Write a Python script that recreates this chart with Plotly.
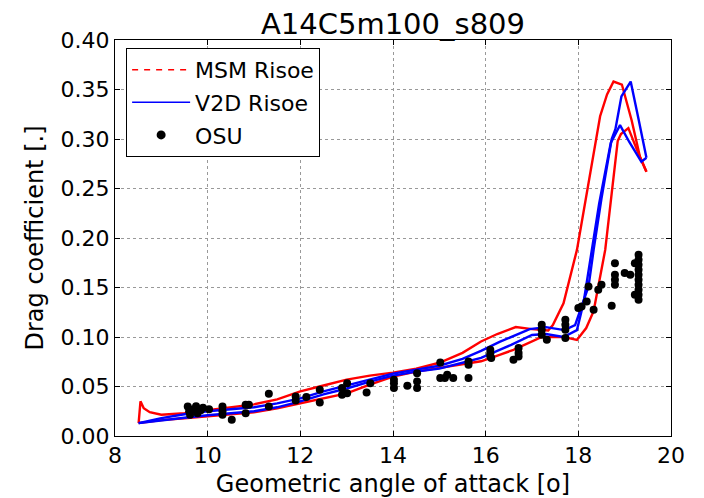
import plotly.graph_objects as go

# MSM Risoe (red) - two hysteresis branches
msm_a_x = [8.51, 8.55, 8.62, 8.75, 9.0, 9.5, 10.0, 10.5, 11.0, 11.5, 12.0, 12.5, 13.0, 13.5, 14.0, 14.5,
           15.0, 15.5, 15.9, 16.25, 16.65, 17.0, 17.35, 17.45, 17.68, 17.97, 18.25, 18.47, 18.62, 18.76,
           18.94, 19.15, 19.33, 19.47]
msm_a_y = [0.013, 0.035, 0.028, 0.024, 0.0215, 0.023, 0.026, 0.029, 0.032, 0.037, 0.045, 0.051, 0.057, 0.061,
           0.064, 0.068, 0.074, 0.084, 0.0955, 0.103, 0.110, 0.108, 0.1066, 0.112, 0.134, 0.188, 0.262, 0.323,
           0.345, 0.358, 0.355, 0.319, 0.282, 0.267]
msm_b_x = [8.51, 9.0, 9.5, 10.0, 10.5, 11.0, 11.5, 12.0, 12.5, 13.0, 13.5, 14.0, 14.5, 15.0, 15.5, 15.9,
           16.3, 16.6, 17.2, 17.7, 17.97, 18.17, 18.33, 18.58, 18.72, 18.85, 18.92, 19.08, 19.3, 19.47]
msm_b_y = [0.013, 0.016, 0.018, 0.020, 0.022, 0.024, 0.028, 0.033, 0.038, 0.043, 0.052, 0.060, 0.065, 0.069,
           0.073, 0.0755, 0.082, 0.087, 0.0999, 0.0999, 0.097, 0.109, 0.126, 0.188, 0.245, 0.298, 0.305,
           0.311, 0.285, 0.267]

# V2D Risoe (blue) - two hysteresis branches
v2d_a_x = [8.51, 9.0, 9.5, 10.0, 10.5, 11.0, 11.5, 12.0, 12.5, 13.0, 13.5, 14.0, 14.5, 15.0, 15.5, 15.9,
           16.3, 16.95, 17.3, 17.7, 17.93, 18.04, 18.22, 18.33, 18.5, 18.72, 18.8, 18.93, 19.13, 19.3, 19.47]
v2d_a_y = [0.013, 0.018, 0.022, 0.025, 0.027, 0.029, 0.033, 0.038, 0.045, 0.051, 0.057, 0.063, 0.067, 0.071,
           0.078, 0.086, 0.095, 0.108, 0.110, 0.107, 0.112, 0.127, 0.151, 0.188, 0.24, 0.300, 0.310, 0.343,
           0.358, 0.32, 0.281]
v2d_b_x = [8.51, 9.0, 9.5, 10.0, 10.5, 11.0, 11.5, 12.0, 12.5, 13.0, 13.5, 14.0, 14.5, 15.0, 15.5, 15.9,
           16.3, 16.55, 17.0, 17.3, 17.68, 17.97, 18.11, 18.27, 18.45, 18.7, 18.9, 19.1, 19.36, 19.47]
v2d_b_y = [0.013, 0.016, 0.0185, 0.021, 0.023, 0.025, 0.029, 0.035, 0.042, 0.048, 0.055, 0.061, 0.065, 0.068,
           0.074, 0.079, 0.087, 0.092, 0.102, 0.103, 0.100, 0.107, 0.134, 0.18, 0.235, 0.296, 0.314, 0.297,
           0.277, 0.281]

# OSU measurements
osu_x = [9.57, 9.6, 9.62, 9.65, 9.7, 9.75, 9.78, 9.85, 9.9, 10.03, 10.32, 10.32, 10.32, 10.52, 10.82, 10.82,
         10.89, 11.32, 11.32, 11.9, 11.9, 12.13, 12.42, 12.42, 12.9, 12.9, 13.01, 13.01, 13.43, 13.51,
         14.02, 14.02, 14.02, 14.31, 14.52, 14.52, 14.52, 15.02, 15.02, 15.12, 15.17, 15.3, 15.63, 15.63,
         15.63, 16.1, 16.1, 16.1, 16.12, 16.6, 16.71, 16.71, 16.71, 17.21, 17.21, 17.21, 17.32, 17.72,
         17.72, 17.72, 17.72, 18.0, 18.07, 18.18, 18.22, 18.33, 18.43, 18.5, 18.72, 18.79, 18.79, 18.79,
         18.79, 19.0, 19.12, 19.22, 19.3, 19.3, 19.3, 19.3, 19.3, 19.3, 19.3, 19.3, 19.3, 19.3, 19.22]
osu_y = [0.0298, 0.025, 0.0214, 0.0265, 0.027, 0.030, 0.023, 0.026, 0.0285, 0.027, 0.0298, 0.025, 0.0214,
         0.0164, 0.0315, 0.0231, 0.0315, 0.0426, 0.0298, 0.0399, 0.0359, 0.0393, 0.0467, 0.0338, 0.0484,
         0.0416, 0.0534, 0.0433, 0.0440, 0.0534, 0.0568, 0.0534, 0.0484, 0.0507, 0.0635, 0.0551, 0.0484,
         0.0743, 0.0585, 0.0585, 0.0618, 0.0585, 0.0753, 0.0719, 0.0585, 0.0871, 0.0837, 0.0804, 0.0787,
         0.0770, 0.0888, 0.0838, 0.0804, 0.1123, 0.1073, 0.1022, 0.0972, 0.1174, 0.1123, 0.1073, 0.0989,
         0.1292, 0.1309, 0.1359, 0.1511, 0.1275, 0.1477, 0.1528, 0.1315, 0.1746, 0.1629, 0.1578, 0.1528,
         0.1646, 0.1629, 0.1746, 0.1830, 0.1780, 0.1729, 0.1679, 0.1629, 0.1578, 0.1528, 0.1477, 0.1427,
         0.1376, 0.1427]

x_ticks = [8, 10, 12, 14, 16, 18, 20]
y_ticks = [0.00, 0.05, 0.10, 0.15, 0.20, 0.25, 0.30, 0.35, 0.40]

FONT = "DejaVu Sans"
fig = go.Figure()

# legend entries
fig.add_trace(go.Scatter(x=[None], y=[None], mode="lines", name="MSM Risoe", legendgroup="a",
                         line=dict(color="red", width=1.5, dash="6px,6px")))
fig.add_trace(go.Scatter(x=[None], y=[None], mode="lines", name="V2D Risoe", legendgroup="b",
                         line=dict(color="blue", width=1.5)))
fig.add_trace(go.Scatter(x=[None], y=[None], mode="markers", name="OSU", legendgroup="c",
                         marker=dict(color="black", size=9)))

for xs, ys in [(msm_a_x, msm_a_y), (msm_b_x, msm_b_y)]:
    fig.add_trace(go.Scatter(x=xs, y=ys, mode="lines", showlegend=False,
                             line=dict(color="red", width=2.4)))
for xs, ys in [(v2d_a_x, v2d_a_y), (v2d_b_x, v2d_b_y)]:
    fig.add_trace(go.Scatter(x=xs, y=ys, mode="lines", showlegend=False,
                             line=dict(color="blue", width=2.4)))
fig.add_trace(go.Scatter(x=osu_x, y=osu_y, mode="markers", showlegend=False,
                         marker=dict(color="black", size=8)))

axis_common = dict(showline=True, linecolor="black", linewidth=1, mirror="ticks",
                   ticks="inside", ticklen=5, tickcolor="black", automargin=False,
                   showgrid=True, gridcolor="#999999", gridwidth=1, griddash="dot",
                   zeroline=False, tickfont=dict(family=FONT, size=22, color="black"))

fig.update_xaxes(range=[8, 20], tickvals=x_ticks, ticktext=[str(v) for v in x_ticks],
                 title=dict(text="Geometric angle of attack [o]", font=dict(family=FONT, size=24, color="black"),
                            standoff=8),
                 **axis_common)
fig.update_yaxes(range=[0, 0.4], tickvals=y_ticks, ticktext=[f"{v:.2f}" for v in y_ticks],
                 title=dict(text="Drag coefficient [.]", font=dict(family=FONT, size=24, color="black"),
                            standoff=10),
                 **axis_common)

fig.update_layout(
    width=704, height=498,
    margin=dict(l=115, r=33, t=40, b=62),
    paper_bgcolor="white", plot_bgcolor="white",
    font=dict(family=FONT, color="black"),
    title=dict(text="A14C5m100_s809", font=dict(family=FONT, size=29, color="black"),
               x=(115 + 671) / 2 / 704, xanchor="center", y=1 - 24 / 498, yanchor="middle",
               xref="container", yref="container"),
    legend=dict(x=0.02, y=0.98, xanchor="left", yanchor="top",
                bgcolor="white", bordercolor="black", borderwidth=1, tracegroupgap=1,
                traceorder="grouped",
                font=dict(family=FONT, size=22, color="black"), itemwidth=58),
    showlegend=True,
)

fig.write_html("out.html")
